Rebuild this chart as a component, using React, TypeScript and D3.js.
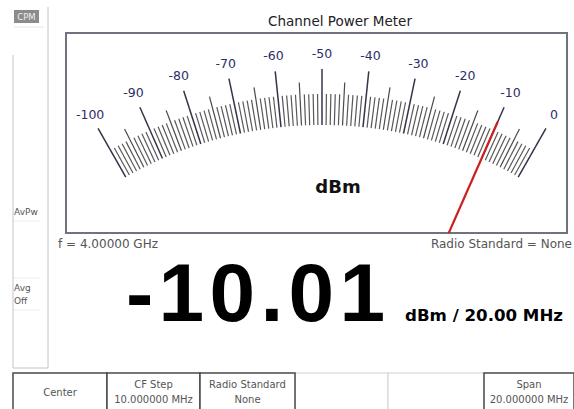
import React from 'react';
import * as d3 from 'd3';

const W = 574;
const H = 409;

const majorValues = [-100, -90, -80, -70, -60, -50, -40, -30, -20, -10, 0];
const scaleDomain = [-100, 0];
const reading = -10.01;
const readingText = '-10.01';
const unitText = 'dBm / 20.00 MHz';
const titleText = 'Channel Power Meter';
const meterUnit = 'dBm';
const freqText = 'f = 4.00000 GHz';
const radioText = 'Radio Standard = None';
const modeLabel = 'CPM';
const sideLabels = [['AvPw'], ['Avg', 'Off']];
const softKeyLabels = [
  ['Center'],
  ['CF Step', '10.000000 MHz'],
  ['Radio Standard', 'None'],
  [],
  [],
  ['Span', '20.000000 MHz'],
];
const softKeyActive = [true, true, true, false, false, true];

export default function App() {
  // meter geometry
  const box = { x0: 66, y0: 33, x1: 567, y1: 233 };
  const cx = 322;
  const cy = 521;
  const rIn = 396;
  const rMinor = 427;
  const rMed = 439;
  const rMajor = 452;
  const rLabel = 468;
  const rNeedle = 436;
  const half = (29.7 * Math.PI) / 180;
  const angle = d3.scaleLinear().domain(scaleDomain).range([-half, half]);
  const pt = (r: number, a: number) => [cx + r * Math.sin(a), cy - r * Math.cos(a)];

  const ticks = d3.range(scaleDomain[0], scaleDomain[1] + 0.001, 1);

  const keyEdges = [13, 107, 200, 295, 388, 484, 574];
  const keyTop = 373;

  const keyOrder = softKeyLabels.map((_, i) => i).sort((a, b) => Number(softKeyActive[a]) - Number(softKeyActive[b]));

  const na = angle(reading);
  const [nx0, ny0] = pt(0, na);
  const [nx1, ny1] = pt(rNeedle, na);

  return (
    <svg width={W} height={H} style={{ position: 'absolute', left: 0, top: 0, background: '#fff' }}
      fontFamily="'DejaVu Sans', sans-serif">
      <defs>
        <clipPath id="meterClip">
          <rect x={box.x0} y={box.y0} width={box.x1 - box.x0} height={box.y1 - box.y0} />
        </clipPath>
      </defs>
      <rect x={0} y={0} width={W} height={H} fill="#fff" />

      {/* left side panel */}
      <line x1={48} y1={7} x2={48} y2={368} stroke="#c4c4c4" strokeWidth={1} />
      <line x1={13} y1={55} x2={13} y2={368} stroke="#c4c4c4" strokeWidth={1} />
      <line x1={13} y1={368} x2={48} y2={368} stroke="#c4c4c4" strokeWidth={1} />
      <rect x={14} y={10} width={25} height={13} fill="#8c8c8c" />
      <text x={26.5} y={20} fontSize={8.5} fill="#f0f0f0" textAnchor="middle">{modeLabel}</text>
      <line x1={14} y1={27} x2={44} y2={27} stroke="#e6e6e6" />
      {sideLabels[0].map((t, i) => (
        <text key={'a' + i} x={14} y={215 + i * 13} fontSize={9} fill="#555">{t}</text>
      ))}
      <line x1={14} y1={221} x2={40} y2={221} stroke="#ececec" />
      <line x1={14} y1={278} x2={40} y2={278} stroke="#ececec" />
      {sideLabels[1].map((t, i) => (
        <text key={'b' + i} x={14} y={291 + i * 13} fontSize={9} fill="#555">{t}</text>
      ))}
      <line x1={14} y1={310} x2={40} y2={310} stroke="#ececec" />

      {/* title */}
      <text x={340} y={26} fontSize={13.5} fill="#222" textAnchor="middle">{titleText}</text>

      {/* meter box */}
      <rect x={box.x0} y={box.y0} width={box.x1 - box.x0} height={box.y1 - box.y0} fill="#fff" stroke="#72727f" strokeWidth={2} />

      {/* ticks */}
      <g>
        {ticks.map((v) => {
          const a = angle(v);
          const isMajor = Math.abs(v % 10) < 1e-9;
          const isMed = !isMajor && Math.abs(v % 5) < 1e-9;
          const r2 = isMajor ? rMajor : isMed ? rMed : rMinor;
          const [x1, y1] = pt(rIn, a);
          const [x2, y2] = pt(r2, a);
          return (
            <line key={v} x1={x1} y1={y1} x2={x2} y2={y2}
              stroke={isMajor ? '#34344a' : isMed ? '#4a4a4a' : '#585858'}
              strokeWidth={isMajor ? 1.5 : 1.2} />
          );
        })}
      </g>
      {majorValues.map((v) => {
        const [x, y] = pt(rLabel, angle(v));
        return (
          <text key={'l' + v} x={x} y={y + 4.5} fontSize={12.5} fill="#2e2e66" textAnchor="middle">{v}</text>
        );
      })}
      <text x={338} y={193} fontSize={18} fontWeight="bold" fill="#111" textAnchor="middle">{meterUnit}</text>

      {/* needle */}
      <g clipPath="url(#meterClip)">
        <line x1={nx0} y1={ny0} x2={nx1} y2={ny1} stroke="#cc1f1f" strokeWidth={2.2} />
      </g>

      {/* info line */}
      <text x={58} y={248} fontSize={12} fill="#555">{freqText}</text>
      <text x={572} y={248} fontSize={12} fill="#555" textAnchor="end">{radioText}</text>

      {/* big reading */}
      <text x={126} y={321} fontSize={82} fontWeight="bold" fill="#000"
        fontFamily="'Liberation Sans', Arial, sans-serif" textLength={259} lengthAdjust="spacing">{readingText}</text>
      <text x={405} y={321} fontSize={15} fontWeight="bold" fill="#000" textLength={158} lengthAdjust="spacingAndGlyphs">{unitText}</text>

      {/* soft keys */}
      {keyOrder.map((i) => {
        const x0 = keyEdges[i];
        const x1 = keyEdges[i + 1];
        const lines = softKeyLabels[i];
        const active = softKeyActive[i];
        const mid = (x0 + x1) / 2;
        return (
          <g key={'k' + i}>
            <rect x={x0} y={keyTop} width={x1 - x0} height={H - keyTop + 4} fill="#fff"
              stroke={active ? '#4a4a4a' : '#d0d0d0'} strokeWidth={active ? 1.5 : 1} />
            {lines.length === 1 && (
              <text x={mid} y={396} fontSize={10} fill="#555" textAnchor="middle">{lines[0]}</text>
            )}
            {lines.length === 2 && (
              <>
                <text x={mid} y={388} fontSize={10} fill="#555" textAnchor="middle">{lines[0]}</text>
                <text x={mid} y={403} fontSize={10} fill="#555" textAnchor="middle">{lines[1]}</text>
              </>
            )}
          </g>
        );
      })}
    </svg>
  );
}
